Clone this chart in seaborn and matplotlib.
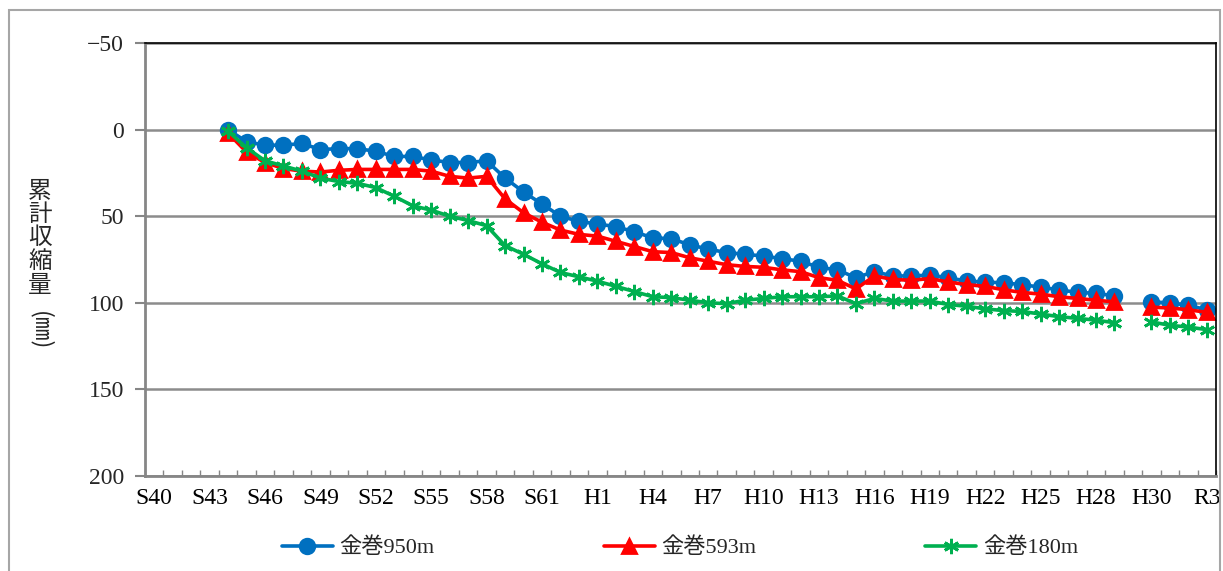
import numpy as np
import pandas as pd
import matplotlib
matplotlib.use("Agg")
import matplotlib.pyplot as plt
import seaborn as sns
from matplotlib.lines import Line2D
from matplotlib.patches import Rectangle

# ---------------- data ----------------
categories = ([f"S{y}" for y in range(40, 64)] +
              [f"H{y}" for y in range(1, 30)] +
              ["", "H30", "R1", "R2", "R3"])

N = None
kanamaki_950 = [N, N, N, N,
                0, 7, 9, 9, 8, 11.5, 11, 11, 12.5, 15.5, 15.5, 17.5, 19, 19, 18, 28,
                36, 43, 50, 53, 54.5, 56, 59, 62.5, 63, 66.5, 69, 71, 72, 73, 74.5,
                76, 79.5, 81, 85.5, 82, 84.5, 84.5, 84, 85.5, 87.5, 88, 88.5, 89.5,
                91, 92.5, 94, 94.5, 96, N, 99.5, 100, 101.5, 104]
kanamaki_593 = [N, N, N, N,
                2, 13, 19, 22.5, 24, 24.5, 23.5, 23, 23, 23, 23, 24, 27, 28, 27, 40,
                48, 53.5, 58, 60.5, 61.5, 64.5, 67.5, 70.5, 71, 74, 76, 78, 79, 79.5,
                81, 82, 85.5, 87, 92, 84.5, 86.5, 87, 86, 88, 89.5, 90.5, 92.5, 94,
                95, 96.5, 97.5, 98.5, 99.5, N, 102.5, 103, 104, 105.5]
kanamaki_180 = [N, N, N, N,
                1, 10.5, 18, 21, 24, 28, 30, 31, 33.5, 38.5, 44, 46.5, 50, 52.5, 55.5,
                67, 72, 77.5, 82.5, 85, 87.5, 90.5, 93.5, 96.5, 97, 98.5, 100, 100.5,
                98.5, 97.5, 96.5, 96.5, 96.5, 96, 100.5, 97.5, 99, 99, 99, 101, 102,
                103.5, 104.5, 105, 106.5, 108, 109, 110, 111.5, N, 111, 113, 114, 115.5]

series_names = ["金巻950m", "金巻593m", "金巻180m"]
series_values = [kanamaki_950, kanamaki_593, kanamaki_180]

y_ticks = [-50, 0, 50, 100, 150, 200]
y_tick_labels = ["−50", "0", "50", "100", "150", "200"]

# ---------------- style ----------------
colors = ["#0070C0", "#FF0000", "#00B050"]
markers = ["o", "^", (6, 2, 0)]
msizes = [10.5, 10.5, 11]

sns.set_theme(style="white")
plt.rcParams["font.family"] = ["Liberation Serif", "Noto Sans CJK JP"]

W, H = 1223, 571
fig = plt.figure(figsize=(W / 100, H / 100), dpi=100)
ax = fig.add_axes([145 / W, 1 - 476 / H, (1216 - 145) / W, (476 - 43) / H])

x_idx = np.arange(len(categories))
for name, vals, c, m, ms in zip(series_names, series_values, colors, markers, msizes):
    arr = np.array([np.nan if v is None else v for v in vals], dtype=float)
    seg = np.cumsum(np.isnan(arr))
    df = pd.DataFrame({"x": x_idx, "y": arr, "seg": seg}).dropna()
    sns.lineplot(data=df, x="x", y="y", units="seg", estimator=None, ax=ax,
                 color=c, linewidth=2.6, marker=m, markersize=ms,
                 markeredgecolor=c, markerfacecolor=c, markeredgewidth=2,
                 legend=False, sort=False)

ax.set_xlim(-0.5, len(categories) - 0.5)
ax.set_ylim(200, -50)
ax.set_xlabel("")
ax.set_ylabel("")

ax.set_xticks(x_idx[::3])
ax.set_xticklabels(categories[::3], fontsize=17, family=["Liberation Serif", "Noto Sans CJK JP"])
ax.set_xticks(np.arange(-0.5, len(categories), 1.0), minor=True)
ax.tick_params(axis="x", which="major", length=0, pad=9, colors="black")
ax.tick_params(axis="x", which="minor", direction="in", length=4, width=1,
               color="#868686", bottom=True)

ax.set_yticks(y_ticks)
ax.set_yticklabels(y_tick_labels, fontsize=17)
ax.tick_params(axis="y", which="major", direction="out", length=7, width=1.5,
               color="#868686", pad=8, left=True)

ax.grid(axis="y", color="#8c8c8c", linewidth=1.8)
ax.grid(axis="x", visible=False)
ax.set_axisbelow(True)

for s in ["left", "bottom"]:
    ax.spines[s].set_color("#868686")
    ax.spines[s].set_linewidth(2)
for s in ["top", "right"]:
    ax.spines[s].set_color("black")
    ax.spines[s].set_linewidth(1.2)

# y-axis label (vertical writing)
label_chars = "累計収縮量"
for i, ch in enumerate(label_chars):
    fig.text(40 / W, 1 - (191 + i * 23.5) / H, ch, ha="center", va="center",
             fontsize=17, family="Noto Sans CJK JP")
fig.text(40 / W, 1 - 331 / H, "(㎜)", ha="center", va="center", rotation=270,
         fontsize=17, family="Noto Sans CJK JP")

# legend
handles = [Line2D([0], [0], color=c, linewidth=2.6, marker=m, markersize=ms,
                  markeredgecolor=c, markerfacecolor=c, markeredgewidth=2)
           for c, m, ms in zip(colors, markers, msizes)]
fig.legend(handles, series_names, loc="center", bbox_to_anchor=(680 / W, 1 - 548 / H),
           ncol=3, frameon=False, handlelength=2.3, handletextpad=0.3,
           columnspacing=7.6, prop={"family": ["Liberation Serif", "Noto Sans CJK JP"], "size": 16})

# outer chart border
fig.patches.append(Rectangle((9 / W, -0.2), (1220 - 9) / W, 1.2 - 10 / H,
                             transform=fig.transFigure, fill=False,
                             edgecolor="#a6a6a6", linewidth=1.5))

fig.savefig("out.png", dpi=100)
